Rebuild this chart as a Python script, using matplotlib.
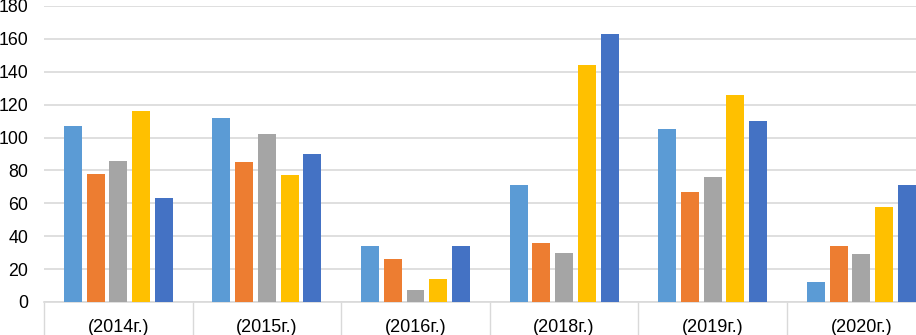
import matplotlib
matplotlib.use("Agg")
import matplotlib.pyplot as plt
import numpy as np

categories = ["(2014г.)", "(2015г.)", "(2016г.)", "(2018г.)", "(2019г.)", "(2020г.)"]
series_1 = [107, 112, 34, 71, 105, 12]
series_2 = [78, 85, 26, 36, 67, 34]
series_3 = [86, 102, 7, 30, 76, 29]
series_4 = [116, 77, 14, 144, 126, 58]
series_5 = [63, 90, 34, 163, 110, 71]
y_ticks = [0, 20, 40, 60, 80, 100, 120, 140, 160, 180]

colors = ["#5B9BD5", "#ED7D31", "#A5A5A5", "#FFC000", "#4472C4"]
series = [series_1, series_2, series_3, series_4, series_5]

plt.rcParams['font.family'] = ['Liberation Sans', 'DejaVu Sans']

W, H = 916, 335
fig = plt.figure(figsize=(W / 100, H / 100), dpi=100)
left, right, top, bottom = 44, 935.6, 6, 302
ax = fig.add_axes([left / W, (H - bottom) / H, (right - left) / W, (bottom - top) / H])

x = np.arange(len(categories))
pitch = 0.153
width = 0.121
for i, (vals, c) in enumerate(zip(series, colors)):
    ax.bar(x + (i - 2) * pitch, vals, width=width, color=c, zorder=3)

ax.set_xlim(-0.5, len(categories) - 0.5)
ax.set_ylim(0, 180)
ax.set_yticks(y_ticks)
ax.set_yticklabels([str(v) for v in y_ticks])
ax.yaxis.grid(True, color="#D9D9D9", linewidth=1.2, zorder=0)
ax.set_axisbelow(True)

ax.set_xticks(x)
ax.set_xticklabels(categories)
ax.set_xticks(np.arange(len(categories) + 1) - 0.5, minor=True)
ax.tick_params(axis='x', which='major', length=0, pad=12, labelsize=13, colors="#000000")
ax.tick_params(axis='x', which='minor', length=40, width=1, color="#D9D9D9")
ax.tick_params(axis='y', length=0, pad=11.5, labelsize=12.8)

for s in ["top", "right", "left"]:
    ax.spines[s].set_visible(False)
ax.spines["bottom"].set_color("#D9D9D9")
ax.spines["bottom"].set_linewidth(1.2)

fig.savefig("out.png", dpi=100)
